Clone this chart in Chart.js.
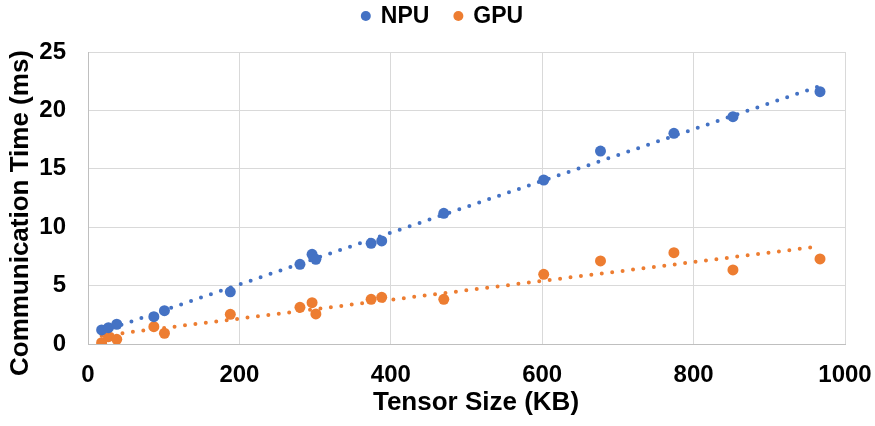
<!DOCTYPE html>
<html>
<head>
<meta charset="utf-8">
<script src="https://cdn.jsdelivr.net/npm/chart.js@4.4.1/dist/chart.umd.min.js"></script>
<style>
  html, body { margin: 0; padding: 0; background: #ffffff; }
  #wrap { width: 875px; height: 426px; }
</style>
</head>
<body>
<div id="wrap"><canvas id="chart" width="875" height="426"></canvas></div>
<script>
// Tensor sizes (KB) shared by both devices
const tensorSizes = [18, 27, 38, 87, 101, 188, 280, 296, 301, 374, 388, 470, 602, 677, 774, 852, 967];
// Measured communication time (ms)
const npuTimes = [1.20, 1.40, 1.69, 2.34, 2.85, 4.47, 6.82, 7.68, 7.25, 8.62, 8.82, 11.19, 14.04, 16.52, 18.04, 19.46, 21.60];
const gpuTimes = [0.11, 0.63, 0.40, 1.48, 0.92, 2.54, 3.14, 3.54, 2.57, 3.83, 4.00, 3.83, 5.97, 7.11, 7.82, 6.34, 7.28];
// Axis ticks
const xTicks = [0, 200, 400, 600, 800, 1000];
const yTicks = [0, 5, 10, 15, 20, 25];
const seriesNames = ['NPU', 'GPU'];
const seriesColors = ['#4472C4', '#ED7D31'];

const FONT = '"Liberation Sans", Arial, sans-serif';

function toPoints(xs, ys) {
  return xs.map((x, i) => ({ x: x, y: ys[i] }));
}

// Least-squares linear trendline across the measured range
function linearTrend(xs, ys) {
  const n = xs.length;
  const mx = xs.reduce((a, b) => a + b, 0) / n;
  const my = ys.reduce((a, b) => a + b, 0) / n;
  let sxy = 0, sxx = 0;
  for (let i = 0; i < n; i++) {
    sxy += (xs[i] - mx) * (ys[i] - my);
    sxx += (xs[i] - mx) * (xs[i] - mx);
  }
  const slope = sxy / sxx;
  const icpt = my - slope * mx;
  const x0 = Math.min(...xs), x1 = Math.max(...xs);
  return [{ x: x0, y: icpt + slope * x0 }, { x: x1, y: icpt + slope * x1 }];
}

const seriesTimes = [npuTimes, gpuTimes];
const datasets = [];
seriesTimes.forEach((times, i) => {
  datasets.push({
    label: seriesNames[i],
    type: 'scatter',
    data: toPoints(tensorSizes, times),
    backgroundColor: seriesColors[i],
    borderColor: seriesColors[i],
    borderWidth: 0,
    pointRadius: 5.5,
    pointHoverRadius: 5.5,
    order: 1
  });
});
seriesTimes.forEach((times, i) => {
  datasets.push({
    label: seriesNames[i] + ' trend',
    type: 'line',
    data: linearTrend(tensorSizes, times),
    borderColor: seriesColors[i],
    borderWidth: 4,
    borderDash: [0, 10.5],
    borderCapStyle: 'round',
    pointRadius: 0,
    fill: false,
    order: 2
  });
});

// Axis titles and legend drawn on top of the chart
const decorations = {
  id: 'decorations',
  afterDraw(chart) {
    const ctx = chart.ctx;
    ctx.save();
    ctx.fillStyle = '#000000';
    ctx.textBaseline = 'middle';

    // x-axis title
    ctx.font = 'bold 26px ' + FONT;
    ctx.textAlign = 'center';
    ctx.fillText('Tensor Size (KB)', 476, 403);

    // y-axis title
    ctx.save();
    ctx.translate(21, 213);
    ctx.rotate(-Math.PI / 2);
    ctx.fillText('Communication Time (ms)', 0, 0);
    ctx.restore();

    // legend
    ctx.font = 'bold 23px ' + FONT;
    ctx.textAlign = 'left';
    const r = 5, gapText = 10, gapItem = 24;
    const widths = seriesNames.map(n => 2 * r + gapText + ctx.measureText(n).width);
    const total = widths.reduce((a, b) => a + b, 0) + gapItem * (widths.length - 1);
    let x = 442 - total / 2;
    const y = 16;
    seriesNames.forEach((name, i) => {
      ctx.fillStyle = seriesColors[i];
      ctx.beginPath();
      ctx.arc(x + r, y, r, 0, Math.PI * 2);
      ctx.fill();
      ctx.fillStyle = '#000000';
      ctx.fillText(name, x + 2 * r + gapText, y + 1);
      x += widths[i] + gapItem;
    });
    ctx.restore();
  }
};

const plainNumber = v => String(v);

new Chart(document.getElementById('chart'), {
  data: { datasets: datasets },
  options: {
    responsive: false,
    animation: false,
    devicePixelRatio: 1,
    layout: { padding: { top: 52, right: 30, left: 0, bottom: 0 } },
    plugins: { legend: { display: false }, tooltip: { enabled: false } },
    scales: {
      x: {
        type: 'linear',
        min: xTicks[0],
        max: xTicks[xTicks.length - 1],
        afterBuildTicks(scale) { scale.ticks = xTicks.map(v => ({ value: v })); },
        afterFit(scale) { scale.height = 82; scale.paddingLeft = 0; scale.paddingRight = 0; },
        grid: { color: '#d9d9d9', lineWidth: 1, drawTicks: false },
        border: { color: '#bfbfbf', width: 1 },
        ticks: { color: '#000000', padding: 17, callback: plainNumber, font: { family: FONT, size: 24, weight: 'bold' } }
      },
      y: {
        type: 'linear',
        min: yTicks[0],
        max: yTicks[yTicks.length - 1],
        afterBuildTicks(scale) { scale.ticks = yTicks.map(v => ({ value: v })); },
        afterFit(scale) { scale.width = 88; scale.paddingTop = 0; scale.paddingBottom = 0; },
        grid: { color: '#d9d9d9', lineWidth: 1, drawTicks: false },
        border: { color: '#bfbfbf', width: 1 },
        ticks: { color: '#000000', padding: 22, callback: plainNumber, font: { family: FONT, size: 24, weight: 'bold' } }
      }
    }
  },
  plugins: [decorations]
});
</script>
</body>
</html>
